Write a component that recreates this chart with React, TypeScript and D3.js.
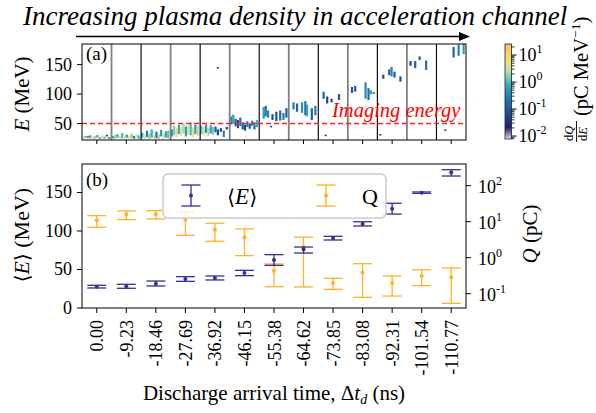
import React from "react";
import * as d3 from "d3";

const categories = ["0.00","-9.23","-18.46","-27.69","-36.92","-46.15","-55.38","-64.62","-73.85","-83.08","-92.31","-101.54","-110.77"];
const meanE = [27.7, 28.1, 31.6, 37.7, 39.0, 45.5, 62.3, 76.2, 90.9, 109, 129, 149.8, 175.8];
const meanELo = [26, 25.6, 28.6, 34.6, 36.4, 42, 55.4, 71.4, 88.3, 106.5, 122, 148.9, 171.4];
const meanEHi = [29.5, 30.8, 35, 40.7, 41.6, 48.9, 69.3, 79.2, 93.1, 112, 136, 150.7, 179.6];
const charge = [10.9, 16, 16, 11.4, 6, 3.7, 0.43, 2.02, 0.198, 0.39, 0.198, 0.31, 0.285];
const chargeLo = [7.0, 11.4, 11.9, 4.2, 2.86, 1.14, 0.156, 0.153, 0.132, 0.079, 0.086, 0.167, 0.054];
const chargeHi = [14.7, 19.8, 20.2, 18.6, 9.0, 6.3, 0.67, 3.7, 0.268, 0.68, 0.31, 0.46, 0.52];
const eTicks = [50, 100, 150];
const meanTicks = [0, 50, 100, 150];
const qTicks = [-1, 0, 1, 2];
const cbTicks = [-2, -1, 0, 1];
const imagingEnergy = 50;

// [category, position in slot, E low, E high, dQ/dE]
const spectra: number[][] = [
  [0,0.04,24,28,3],[0,0.12,25,29,1.2],[0,0.2,24,27,6],[0,0.2,27,29,0.3],[0,0.28,25,30,0.6],[0,0.36,24,28,4],[0,0.44,24,29,1.8],[0,0.52,25,28,8],[0,0.52,28,30,0.2],[0,0.6,24,27,0.8],[0,0.68,25,30,3],[0,0.76,24,28,1.2],[0,0.84,25,29,5],[0,0.84,29,31,0.1],[0,0.92,24,27,0.5],
  [1,0.04,25,29,0.4],[1,0.12,24,31,2],[1,0.2,26,32,0.7],[1,0.28,24,29,5],[1,0.36,25,34,1],[1,0.44,24,30,3],[1,0.52,26,31,0.5],[1,0.6,24,30,6],[1,0.68,25,33,1.5],[1,0.76,24,29,0.3],[1,0.84,25,32,4],[1,0.92,24,30,0.9],
  [2,0.04,26,34,0.6],[2,0.12,24,31,3],[2,0.2,27,38,0.3],[2,0.28,24,33,1.5],[2,0.36,26,40,0.8],[2,0.44,24,30,5],[2,0.52,25,36,0.2],[2,0.6,24,32,2],[2,0.68,28,39,0.5],[2,0.76,24,34,4],[2,0.84,26,37,0.7],[2,0.92,25,38,1.2],
  [3,0.04,28,40,0.4],[3,0.12,30,46,1.5],[3,0.2,27,42,4],[3,0.28,32,48,0.8],[3,0.36,29,44,6],[3,0.44,33,50,2],[3,0.52,28,45,0.6],[3,0.6,31,47,3],[3,0.68,30,52,1],[3,0.76,27,43,5],[3,0.84,32,48,0.5],[3,0.92,29,46,2.5],
  [4,0.04,32,46,1],[4,0.12,30,44,3],[4,0.2,34,48,0.4],[4,0.28,29,42,2],[4,0.36,33,47,0.6],[4,0.44,31,44,1.5],[4,0.52,35,45,0.15],[4,0.6,30,40,0.08],[4,0.7,36,42,0.05],[4,0.8,27,38,0.3],[4,0.9,40,44,0.04],[4,0.6,144,146,0.05],
  [5,0.06,48,62,0.3],[5,0.12,50,65,0.6],[5,0.2,45,58,0.15],[5,0.28,42,56,0.08],[5,0.36,46,60,0.2],[5,0.44,40,52,0.1],[5,0.52,38,48,0.06],[5,0.6,44,54,0.25],[5,0.68,41,50,0.12],[5,0.76,46,55,0.5],[5,0.84,40,52,0.2],[5,0.92,44,56,0.8],
  [6,0.15,58,78,0.6],[6,0.22,62,80,0.2],[6,0.3,60,72,0.35],[6,0.45,56,66,0.1],[6,0.58,54,70,0.08],[6,0.71,55,72,0.15],[6,0.82,56,68,0.25],[6,0.92,60,76,0.12],[6,0.4,44,46,0.08],
  [7,0.16,74,86,0.3],[7,0.28,70,84,0.15],[7,0.45,68,86,0.4],[7,0.56,64,88,0.2],[7,0.62,62,82,0.7],[7,0.78,56,76,0.12],[7,0.9,64,80,0.25],
  [8,0.18,92,104,0.12],[8,0.3,84,96,0.08],[8,0.45,86,92,0.05],[8,0.7,90,100,0.1],[8,0.25,29,31,0.05],
  [9,0.14,102,112,0.08],[9,0.25,104,114,0.1],[9,0.6,92,120,0.35],[9,0.7,90,110,0.15],[9,0.78,100,106,0.5],[9,0.88,101,103,0.06],
  [10,0.2,126,133,0.08],[10,0.4,132,142,0.12],[10,0.48,130,146,0.3],[10,0.58,128,138,0.1],[10,0.78,121,130,0.08],[10,0.1,30,32,0.05],
  [11,0.12,148,156,0.08],[11,0.28,144,156,0.12],[11,0.43,158,164,0.1],[11,0.65,141,157,0.2],
  [12,0.58,162,180,0.15],[12,0.75,165,184,0.3],[12,0.92,168,186,0.6],[12,0.3,38,40,0.05],
];

const cmapStops: [number, string][] = [
  [0.0, "#dcdcea"], [0.05, "#8a8cb8"], [0.12, "#1e2468"], [0.3, "#214f9e"], [0.45, "#2182b2"],
  [0.56, "#32a8b8"], [0.65, "#80cab8"], [0.73, "#c6e4a8"], [0.83, "#f2e070"], [0.93, "#fdc865"], [1.0, "#fbb878"],
];

const SERIF = "Liberation Serif, Times New Roman, DejaVu Serif, serif";
const MATH = "DejaVu Serif, serif";
const NAVY = "#1c1c84";
const ORANGE = "#ffa500";
const TICK = 18;

export default function App() {
  const L = 82, R = 466;
  const T1 = 44, B1 = 140, T2 = 164, B2 = 308;
  const x = d3.scaleBand<string>().domain(categories).range([L, R]).padding(0);
  const bw = x.bandwidth();
  const xc = (i: number) => (x(categories[i]) as number) + bw / 2;
  const yTop = d3.scaleLinear().domain([22, 185]).range([B1, T1]);
  const yE = d3.scaleLinear().domain([0, 187]).range([B2, T2]);
  const yQ = d3.scaleLog().domain([0.04, 400]).range([B2, T2]);
  const cbLo = Math.pow(10, -2.11), cbHi = Math.pow(10, 1.41);
  const cbY = d3.scaleLog().domain([cbLo, cbHi]).range([139, 44]);
  const cT = d3.scaleLinear().domain(cmapStops.map(s => s[0])).range(cmapStops.map(s => s[1]) as any).interpolate(d3.interpolateRgb as any);
  const tOf = d3.scaleLog().domain([cbLo, cbHi]).range([0, 1]).clamp(true);
  const cmap = (v: number) => cT(tOf(v)) as unknown as string;

  const cap = 9.5;
  const CBX = 505, CBW = 6.5;

  const minorCb: number[] = [];
  for (let e = -3; e <= 1; e++) for (let m = 2; m <= 9; m++) { const v = m * Math.pow(10, e); if (v > cbLo && v < cbHi) minorCb.push(v); }

  const errbar = (cx: number, yv: number, ylo: number, yhi: number, color: string, op: number, key: string) => (
    <g key={key} stroke={color} strokeWidth={1.3} opacity={op}>
      <line x1={cx} x2={cx} y1={ylo} y2={yhi} />
      <line x1={cx - cap} x2={cx + cap} y1={ylo} y2={ylo} />
      <line x1={cx - cap} x2={cx + cap} y1={yhi} y2={yhi} />
      <circle cx={cx} cy={yv} r={2} fill={color} stroke="none" />
    </g>
  );

  const bracketE = (sz: number) => (
    <>
      <tspan style={{ fontFamily: MATH }} fontSize={sz * 0.9}>⟨</tspan><tspan fontStyle="italic">E</tspan><tspan style={{ fontFamily: MATH }} fontSize={sz * 0.9}>⟩</tspan>
    </>
  );

  return (
    <svg width={596} height={413} style={{ display: "block", position: "absolute", left: 0, top: 0, fontFamily: SERIF }}>
      <defs>
        <clipPath id="clipTop"><rect x={L} y={T1} width={R - L} height={B1 - T1} /></clipPath>
        <linearGradient id="cbGrad" x1="0" y1="1" x2="0" y2="0">
          {cmapStops.map((s, i) => <stop key={i} offset={s[0]} stopColor={s[1]} />)}
        </linearGradient>
      </defs>
      <rect x={0} y={0} width={596} height={413} fill="white" />
      {/* title + arrow */}
      <text x={23} y={24.5} fontSize={27} fontStyle="italic">Increasing plasma density in acceleration channel</text>
      <line x1={76} x2={462} y1={36.5} y2={36.5} stroke="black" strokeWidth={1.5} />
      <polygon points="470,36.5 459,32 459,41" fill="black" />

      {/* top panel */}
      <g clipPath="url(#clipTop)">
        {spectra.map((s, i) => {
          const [c, p, lo, hi, v] = s;
          const x0 = (x(categories[c]) as number) + p * bw - 1.1;
          const y0 = yTop(hi), y1 = yTop(lo);
          return <rect key={i} x={x0} y={y0} width={2.2} height={Math.max(1.5, y1 - y0)} fill={cmap(v)} />;
        })}
        {categories.slice(1).map((c, k) => (
          <line key={c} x1={x(c)} x2={x(c)} y1={T1} y2={B1} stroke={k % 2 === 0 ? "#808080" : "#111"} strokeWidth={k % 2 === 0 ? 1.8 : 1.2} />
        ))}
        <line x1={L} x2={R} y1={yTop(imagingEnergy)} y2={yTop(imagingEnergy)} stroke="#ff2020" strokeWidth={1.5} strokeDasharray="5,3" />
      </g>
      <rect x={L} y={T1} width={R - L} height={B1 - T1} fill="none" stroke="black" strokeWidth={1} />
      <text x={332} y={117} fontSize={20.5} fontStyle="italic" fill="#ff0000">Imaging energy</text>
      <text x={86} y={60} fontSize={19}>(a)</text>
      {categories.map((c, i) => <line key={c} x1={xc(i)} x2={xc(i)} y1={B1} y2={B1 + 4} stroke="black" />)}
      {eTicks.map(t => (
        <g key={t}>
          <line x1={L - 5} x2={L} y1={yTop(t)} y2={yTop(t)} stroke="black" />
          <text x={L - 10} y={yTop(t) + 6} fontSize={TICK} textAnchor="end">{t}</text>
        </g>
      ))}
      <text transform={`translate(29,${(T1 + B1) / 2 + 2}) rotate(-90)`} fontSize={21} textAnchor="middle"><tspan fontStyle="italic">E</tspan> (MeV)</text>

      {/* colorbar */}
      <rect x={CBX} y={44} width={CBW} height={95} fill="url(#cbGrad)" stroke="#222" strokeWidth={0.8} />
      {minorCb.map((v, i) => <line key={i} x1={CBX + CBW} x2={CBX + CBW + 3} y1={cbY(v)} y2={cbY(v)} stroke="black" strokeWidth={0.8} />)}
      {cbTicks.map(e => (
        <g key={e}>
          <line x1={CBX + CBW} x2={CBX + CBW + 5} y1={cbY(Math.pow(10, e))} y2={cbY(Math.pow(10, e))} stroke="black" />
          <text x={CBX + CBW + 7} y={cbY(Math.pow(10, e)) + 6} fontSize={TICK}>10<tspan dy={-8} fontSize={12}>{e < 0 ? "-" + Math.abs(e) : e}</tspan></text>
        </g>
      ))}
      <g transform="translate(588,143) rotate(-90)">
        <text x={2} y={-15} fontSize={12.5}>d<tspan fontStyle="italic">Q</tspan></text>
        <line x1={1} x2={22} y1={-11.5} y2={-11.5} stroke="black" strokeWidth={0.9} />
        <text x={2} y={-1} fontSize={12.5}>d<tspan fontStyle="italic">E</tspan></text>
        <text x={27} y={0} fontSize={20.5}>(pC MeV<tspan dy={-8} fontSize={13.5}>−1</tspan><tspan dy={8}>)</tspan></text>
      </g>

      {/* bottom panel */}
      <rect x={L} y={T2} width={R - L} height={B2 - T2} fill="none" stroke="black" strokeWidth={1} />
      {categories.map((c, i) => errbar(xc(i), yQ(charge[i]), yQ(chargeLo[i]), yQ(chargeHi[i]), ORANGE, 0.85, "q" + i))}
      {categories.map((c, i) => errbar(xc(i), yE(meanE[i]), yE(meanELo[i]), yE(meanEHi[i]), NAVY, 0.9, "e" + i))}
      <text x={86} y={186} fontSize={19}>(b)</text>
      {/* legend */}
      <rect x={163} y={174} width={223} height={44} rx={5} fill="white" fillOpacity={0.8} stroke="#cccccc" strokeWidth={1.5} />
      {errbar(191, 195.5, 206, 185, NAVY, 0.9, "le")}
      <text x={227} y={204} fontSize={23}>{bracketE(23)}</text>
      {errbar(326, 195.5, 206, 185, ORANGE, 0.85, "lq")}
      <text x={362} y={204} fontSize={22}>Q</text>

      {categories.map((c, i) => (
        <g key={c}>
          <line x1={xc(i)} x2={xc(i)} y1={B2} y2={B2 + 5} stroke="black" />
          <text transform={`translate(${xc(i) + 6.5},${B2 + 12}) rotate(-90)`} fontSize={TICK} textAnchor="end">{c}</text>
        </g>
      ))}
      {meanTicks.map(t => (
        <g key={t}>
          <line x1={L - 5} x2={L} y1={yE(t)} y2={yE(t)} stroke="black" />
          <text x={L - 10} y={yE(t) + 6} fontSize={TICK} textAnchor="end">{t}</text>
        </g>
      ))}
      {qTicks.map(e => (
        <g key={e}>
          <line x1={R} x2={R + 5} y1={yQ(Math.pow(10, e))} y2={yQ(Math.pow(10, e))} stroke="black" />
          <text x={R + 12} y={yQ(Math.pow(10, e)) + 7} fontSize={TICK}>10<tspan dy={-8} fontSize={12}>{e < 0 ? "-" + Math.abs(e) : e}</tspan></text>
        </g>
      ))}
      <text transform={`translate(29,${(T2 + B2) / 2 - 1}) rotate(-90)`} fontSize={22} textAnchor="middle">{bracketE(22)} (MeV)</text>
      <text transform={`translate(537,234) rotate(-90)`} fontSize={21} textAnchor="middle"><tspan fontStyle="italic">Q</tspan> (pC)</text>
      <text x={274} y={400} fontSize={21} textAnchor="middle">Discharge arrival time, Δ<tspan fontStyle="italic">t</tspan><tspan fontStyle="italic" fontSize={14} dy={4}>d</tspan><tspan dy={-4}> (ns)</tspan></text>
    </svg>
  );
}
